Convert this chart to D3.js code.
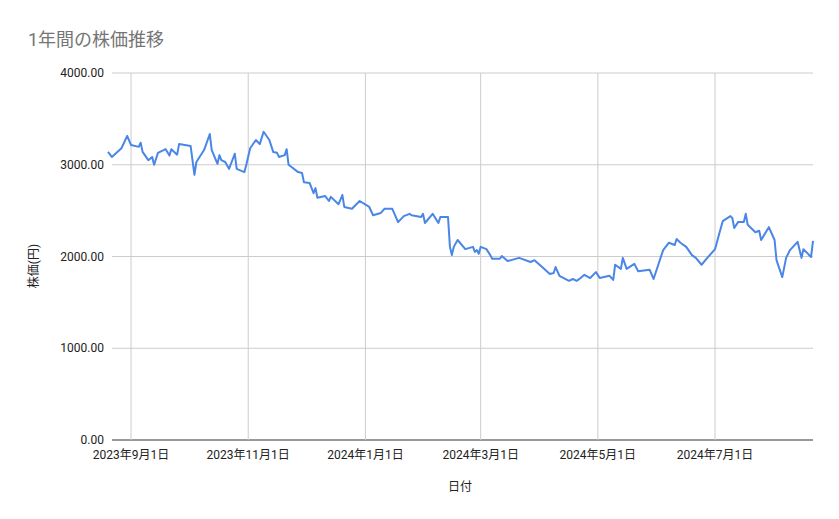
<!DOCTYPE html>
<html><head><meta charset="utf-8">
<script src="https://cdn.jsdelivr.net/npm/d3@7"></script>
<style>body{margin:0;background:#fff;font-family:Roboto,"Noto Sans CJK JP",sans-serif}</style>
</head><body><div id="chart"></div>
<script>
var dates = ["2023-08-20","2023-08-22","2023-08-27","2023-08-30","2023-09-01","2023-09-05","2023-09-06","2023-09-07","2023-09-10","2023-09-12","2023-09-13","2023-09-15","2023-09-19","2023-09-21","2023-09-22","2023-09-25","2023-09-26","2023-10-02","2023-10-04","2023-10-05","2023-10-09","2023-10-12","2023-10-13","2023-10-16","2023-10-17","2023-10-18","2023-10-20","2023-10-22","2023-10-25","2023-10-26","2023-10-30","2023-10-31","2023-11-02","2023-11-05","2023-11-07","2023-11-09","2023-11-12","2023-11-14","2023-11-16","2023-11-17","2023-11-20","2023-11-21","2023-11-22","2023-11-27","2023-11-29","2023-11-30","2023-12-03","2023-12-05","2023-12-06","2023-12-07","2023-12-11","2023-12-13","2023-12-14","2023-12-18","2023-12-20","2023-12-21","2023-12-25","2023-12-29","2024-01-03","2024-01-05","2024-01-09","2024-01-11","2024-01-15","2024-01-18","2024-01-21","2024-01-24","2024-01-25","2024-01-30","2024-01-31","2024-02-01","2024-02-05","2024-02-08","2024-02-09","2024-02-13","2024-02-14","2024-02-15","2024-02-16","2024-02-18","2024-02-22","2024-02-26","2024-02-27","2024-02-28","2024-02-29","2024-03-01","2024-03-04","2024-03-06","2024-03-07","2024-03-11","2024-03-12","2024-03-15","2024-03-21","2024-03-27","2024-03-29","2024-04-02","2024-04-06","2024-04-08","2024-04-09","2024-04-11","2024-04-16","2024-04-18","2024-04-20","2024-04-22","2024-04-24","2024-04-27","2024-04-30","2024-05-02","2024-05-07","2024-05-09","2024-05-10","2024-05-13","2024-05-14","2024-05-16","2024-05-20","2024-05-22","2024-05-28","2024-05-30","2024-06-04","2024-06-07","2024-06-10","2024-06-11","2024-06-13","2024-06-16","2024-06-19","2024-06-21","2024-06-24","2024-06-26","2024-06-27","2024-07-01","2024-07-03","2024-07-05","2024-07-09","2024-07-10","2024-07-11","2024-07-13","2024-07-16","2024-07-17","2024-07-18","2024-07-22","2024-07-24","2024-07-25","2024-07-29","2024-08-01","2024-08-02","2024-08-05","2024-08-07","2024-08-09","2024-08-13","2024-08-15","2024-08-16","2024-08-20","2024-08-21"];
var prices = [3140,3085,3180,3315,3215,3195,3240,3140,3050,3085,3000,3130,3170,3100,3170,3110,3225,3205,2890,3030,3160,3335,3160,3010,3105,3050,3030,2955,3120,2955,2920,3000,3180,3270,3225,3360,3270,3140,3130,3085,3105,3170,3000,2920,2910,2810,2800,2690,2745,2640,2660,2605,2650,2570,2670,2540,2520,2605,2540,2450,2475,2520,2520,2375,2440,2465,2450,2430,2465,2365,2465,2365,2430,2430,2105,2015,2105,2180,2080,2105,2050,2070,2030,2105,2080,2015,1975,1975,2005,1950,1985,1940,1960,1885,1810,1820,1885,1790,1735,1755,1735,1765,1800,1765,1830,1765,1790,1745,1910,1865,1985,1865,1920,1840,1855,1755,2070,2150,2125,2190,2150,2105,2015,1985,1910,1960,1985,2080,2235,2385,2440,2420,2310,2375,2375,2465,2345,2265,2280,2180,2320,2180,1960,1775,1985,2070,2160,1985,2080,1995,2170];
var xTicks = ["2023-09-01","2023-11-01","2024-01-01","2024-03-01","2024-05-01","2024-07-01"];
var yTicks = [0,1000,2000,3000,4000];

var W = 839, H = 519;
var parse = d3.timeParse("%Y-%m-%d");
var data = dates.map(function(d, i) { return {date: parse(d), v: prices[i]}; });

var svg = d3.select("#chart").append("svg").attr("width", W).attr("height", H);
var x = d3.scaleTime().domain([parse("2023-08-20"), parse("2024-08-21")]).range([108, 813]);
var y = d3.scaleLinear().domain([0, 4000]).range([440, 73]);

svg.append("text").attr("x", 28).attr("y", 46).attr("font-size", 18)
    .attr("fill", "#757575").text("1年間の株価推移");

svg.append("g").selectAll("line").data(yTicks).enter().append("line")
    .attr("x1", 112).attr("x2", 813)
    .attr("y1", function(d) { return y(d) }).attr("y2", function(d) { return y(d) })
    .attr("stroke", function(d) { return d == 0 ? "#333" : "#ccc" });
svg.append("g").selectAll("text").data(yTicks).enter().append("text")
    .attr("x", 104).attr("y", function(d) { return y(d) + 4 })
    .attr("text-anchor", "end").attr("font-size", 12).attr("fill", "#222")
    .text(function(d) { return d3.format(".2f")(d) });

svg.append("g").selectAll("line").data(xTicks).enter().append("line")
    .attr("x1", function(d) { return x(parse(d)) }).attr("x2", function(d) { return x(parse(d)) })
    .attr("y1", 73).attr("y2", 440).attr("stroke", "#ccc");
svg.append("g").selectAll("text").data(xTicks).enter().append("text")
    .attr("x", function(d) { return x(parse(d)) }).attr("y", 459)
    .attr("text-anchor", "middle").attr("font-size", 12).attr("fill", "#222")
    .text(function(d) { var t = parse(d); return t.getFullYear() + "年" + (t.getMonth() + 1) + "月" + t.getDate() + "日"; });

svg.append("path").datum(data)
    .attr("fill", "none").attr("stroke", "#4a86e8").attr("stroke-width", 2)
    .attr("stroke-linejoin", "round")
    .attr("d", d3.line().x(function(d) { return x(d.date) }).y(function(d) { return y(d.v) }));

svg.append("text").attr("x", 460).attr("y", 491).attr("text-anchor", "middle")
    .attr("font-size", 12).attr("fill", "#222").text("日付");
svg.append("text").attr("transform", "translate(38,266) rotate(-90)").attr("text-anchor", "middle")
    .attr("font-size", 12).attr("fill", "#222").text("株価(円)");
</script></body></html>
